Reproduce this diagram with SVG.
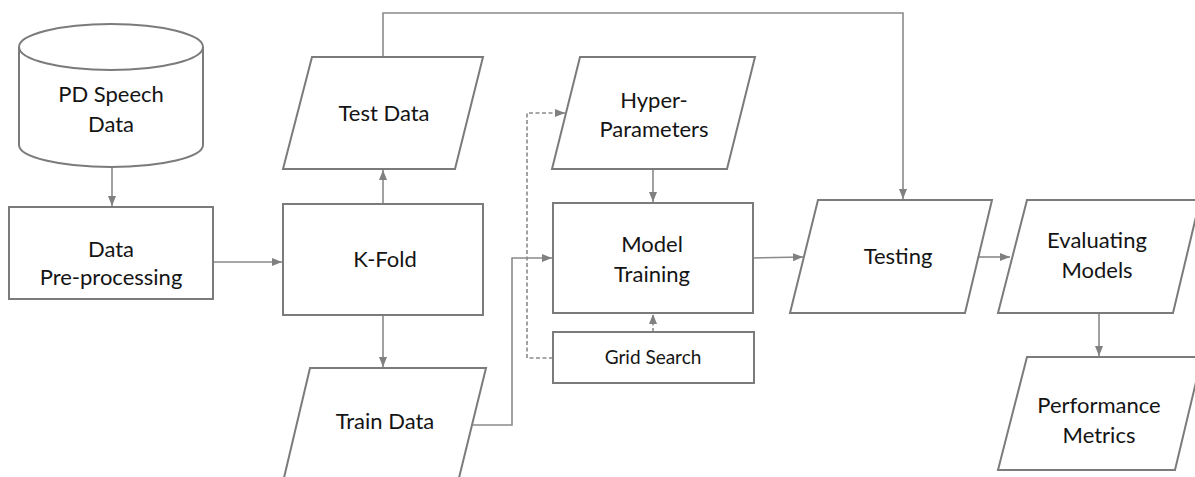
<svg xmlns="http://www.w3.org/2000/svg" width="1195" height="477" viewBox="0 0 1195 477">
  <style>
    .shape { fill: #ffffff; stroke: #7b7b7b; stroke-width: 2; }
    .lbl { font-family: Lato, "Open Sans", sans-serif; font-size: 22px; fill: #141414; text-anchor: middle; }
    .small { font-size: 19px; }
    .conn { fill: none; stroke: #8a8a8a; stroke-width: 1.6; }
    .dash { stroke-dasharray: 4 2.5; }
  </style>
  <defs>
    <marker id="arrow" markerUnits="userSpaceOnUse" markerWidth="10" markerHeight="10" viewBox="0 0 10 10" refX="10" refY="5" orient="auto">
      <path d="M0,1 L10,5 L0,9 Z" fill="#808080"/>
    </marker>
  </defs>
  <rect width="1195" height="477" fill="#ffffff"/>

  <!-- connectors -->
  <g id="connectors">
    <line class="conn" x1="112" y1="168" x2="112" y2="206" marker-end="url(#arrow)"/>
    <line class="conn" x1="213" y1="262" x2="282" y2="262" marker-end="url(#arrow)"/>
    <line class="conn" x1="383" y1="204" x2="383" y2="170" marker-end="url(#arrow)"/>
    <line class="conn" x1="383" y1="315" x2="383" y2="367" marker-end="url(#arrow)"/>
    <polyline class="conn" points="383,57 383,13 903,13 903,199" marker-end="url(#arrow)"/>
    <polyline class="conn" points="473,425 512,425 512,258 552,258" marker-end="url(#arrow)"/>
    <polyline class="conn dash" points="553,358 527,358 527,113 565,113" marker-end="url(#arrow)"/>
    <line class="conn" x1="653" y1="169" x2="653" y2="202" marker-end="url(#arrow)"/>
    <line class="conn dash" x1="653" y1="332" x2="653" y2="314" marker-end="url(#arrow)"/>
    <line class="conn" x1="753" y1="258" x2="803" y2="257" marker-end="url(#arrow)"/>
    <line class="conn" x1="978" y1="257" x2="1010" y2="257" marker-end="url(#arrow)"/>
    <line class="conn" x1="1099" y1="313" x2="1099" y2="356" marker-end="url(#arrow)"/>
  </g>

  <!-- PD Speech Data (cylinder) -->
  <g id="pd-speech-data">
    <path class="shape" d="M19,47 L19,145 A92,22 0 0 0 203,145 L203,47"/>
    <ellipse class="shape" cx="111" cy="47" rx="92" ry="23"/>
    <text class="lbl" x="111" y="102">PD Speech</text>
    <text class="lbl" x="111" y="132">Data</text>
  </g>

  <!-- Data Pre-processing -->
  <g id="data-preprocessing">
    <rect class="shape" x="9" y="207" width="204" height="92"/>
    <text class="lbl" x="111" y="257">Data</text>
    <text class="lbl" x="111" y="285">Pre-processing</text>
  </g>

  <!-- K-Fold -->
  <g id="k-fold">
    <rect class="shape" x="283" y="204" width="200" height="111"/>
    <text class="lbl" x="385" y="267">K-Fold</text>
  </g>

  <!-- Test Data -->
  <g id="test-data">
    <polygon class="shape" points="312,57 483,57 455,169 283,169"/>
    <text class="lbl" x="384" y="121">Test Data</text>
  </g>

  <!-- Train Data -->
  <g id="train-data">
    <polygon class="shape" points="310,368 486,368 458,482 283,482"/>
    <text class="lbl" x="385" y="429">Train Data</text>
  </g>

  <!-- Hyper-Parameters -->
  <g id="hyper-parameters">
    <polygon class="shape" points="580,57 755,57 727,169 552,169"/>
    <text class="lbl" x="654" y="108">Hyper-</text>
    <text class="lbl" x="654" y="137">Parameters</text>
  </g>

  <!-- Model Training -->
  <g id="model-training">
    <rect class="shape" x="553" y="203" width="200" height="110"/>
    <text class="lbl" x="652" y="252">Model</text>
    <text class="lbl" x="652" y="282">Training</text>
  </g>

  <!-- Grid Search -->
  <g id="grid-search">
    <rect class="shape" x="553" y="332" width="201" height="51"/>
    <text class="lbl small" x="653" y="364">Grid Search</text>
  </g>

  <!-- Testing -->
  <g id="testing">
    <polygon class="shape" points="818,200 992,200 965,313 790,313"/>
    <text class="lbl" x="898" y="264">Testing</text>
  </g>

  <!-- Evaluating Models -->
  <g id="evaluating-models">
    <polygon class="shape" points="1027,200 1200,200 1173,313 998,313"/>
    <text class="lbl" x="1097" y="248">Evaluating</text>
    <text class="lbl" x="1097" y="278">Models</text>
  </g>

  <!-- Performance Metrics -->
  <g id="performance-metrics">
    <polygon class="shape" points="1027,357 1202,357 1175,470 998,470"/>
    <text class="lbl" x="1099" y="413">Performance</text>
    <text class="lbl" x="1099" y="443">Metrics</text>
  </g>
</svg>
